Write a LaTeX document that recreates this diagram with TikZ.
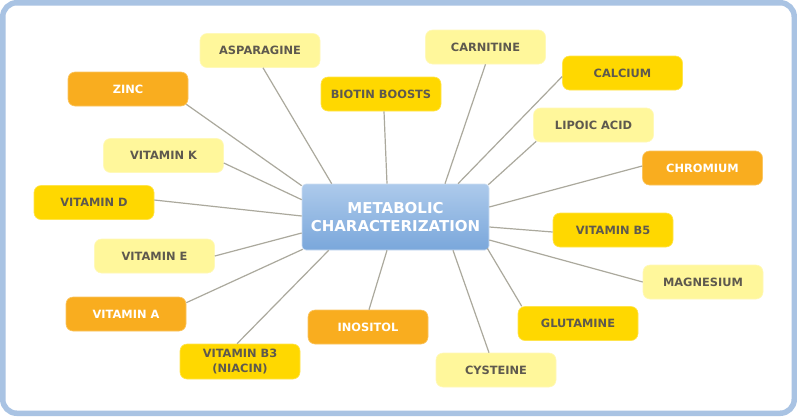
\documentclass[tikz,border=0pt]{standalone}
\usepackage{fontspec}
\setmainfont{DejaVu Sans}
\definecolor{frameblue}{HTML}{A9C3E3}
\definecolor{orangebox}{HTML}{F9AD1F}
\definecolor{goldbox}{HTML}{FFD800}
\definecolor{lightbox}{HTML}{FFF79B}
\definecolor{txtgray}{HTML}{5E594E}
\definecolor{linegray}{HTML}{ABA99D}
\definecolor{centop}{HTML}{ADCAEB}
\definecolor{cenbot}{HTML}{7AA7DB}
\tikzset{
  leaf/.style={rectangle, rounded corners=7pt, minimum width=120pt, minimum height=34pt,
    inner sep=0pt, font=\fontsize{11.4}{14.5}\selectfont\bfseries, align=center},
  orangeleaf/.style={leaf, fill=orangebox, draw=orangebox!70!white, line width=0.6pt, text=white},
  goldleaf/.style={leaf, fill=goldbox, draw=goldbox!70!white, line width=0.6pt, text=txtgray},
  lightleaf/.style={leaf, fill=lightbox, draw=lightbox!70!white, line width=0.6pt, text=txtgray},
  centerbox/.style={rectangle, rounded corners=4pt, minimum width=187pt, minimum height=66pt,
    inner sep=0pt, top color=centop, bottom color=cenbot, draw=centop!60!white, line width=0.6pt,
    text=white, font=\fontsize{15}{18.5}\selectfont\bfseries, align=center},
  link/.style={draw=linegray, line width=1.2pt}
}
\begin{document}
\begin{tikzpicture}[x=1pt,y=-1pt]
\useasboundingbox (0,0) rectangle (797,416);
\draw[frameblue, line width=5.5pt, fill=white, rounded corners=14pt] (2.75,2.75) rectangle (794.25,413.25);

\node[centerbox] (cen) at (395.5,217) {METABOLIC\\CHARACTERIZATION};

\node[lightleaf]  (asp)    at (260,50.5)   {ASPARAGINE};
\node[orangeleaf] (zinc)   at (128,89)     {ZINC};
\node[goldleaf]   (biotin) at (381,94)     {BIOTIN BOOSTS};
\node[lightleaf]  (carn)   at (485.5,47)   {CARNITINE};
\node[goldleaf]   (calc)   at (622.5,73)   {CALCIUM};
\node[lightleaf]  (lipoic) at (593.5,125)  {LIPOIC ACID};
\node[lightleaf]  (vitk)   at (163.5,155.5){VITAMIN K};
\node[orangeleaf] (chrom)  at (702.5,168)  {CHROMIUM};
\node[goldleaf]   (vitd)   at (94,202.5)   {VITAMIN D};
\node[goldleaf]   (vitbf)  at (613,230)    {VITAMIN B5};
\node[lightleaf]  (vite)   at (154.5,256)  {VITAMIN E};
\node[lightleaf]  (magn)   at (703,282)    {MAGNESIUM};
\node[orangeleaf] (vita)   at (126,314)    {VITAMIN A};
\node[orangeleaf] (inos)   at (368,327)    {INOSITOL};
\node[goldleaf]   (glut)   at (578,323.5)  {GLUTAMINE};
\node[goldleaf, minimum height=35pt] (vitbt) at (240,361.5) {VITAMIN B3\\(NIACIN)};
\node[lightleaf]  (cyst)   at (496,370)    {CYSTEINE};

\draw[link] ([xshift=3pt]asp.south) -- ([xshift=30pt]cen.north west);
\draw[link] ([xshift=-2pt,yshift=2pt]zinc.south east) -- ([yshift=-2pt]cen.north west);
\draw[link] ([xshift=3pt]biotin.south) -- ([xshift=-8.5pt]cen.north);
\draw[link] (carn.south) -- ([xshift=49.5pt]cen.north);
\draw[link] ([yshift=-3.5pt]calc.west) -- ([xshift=62.5pt]cen.north);
\draw[link] ([xshift=3pt,yshift=1pt]lipoic.south west) -- ([xshift=-1pt,yshift=-1pt]cen.north east);
\draw[link] ([yshift=-7.5pt]vitk.east) -- ([yshift=-16pt]cen.north west);
\draw[link] ([yshift=2pt]chrom.west) -- ([yshift=10pt]cen.east);
\draw[link] ([yshift=2.5pt]vitd.east) -- ([yshift=1pt]cen.west);
\draw[link] ([yshift=-2pt]vitbf.west) -- ([yshift=-10pt]cen.east);
\draw[link] (vite.east) -- ([yshift=-16pt]cen.west);
\draw[link] (magn.west) -- ([yshift=-23pt]cen.east);
\draw[link] ([yshift=-6pt]vita.north east) -- ([xshift=1pt,yshift=1pt]cen.south west);
\draw[link] ([xshift=1pt]inos.north) -- ([xshift=-8.5pt]cen.south);
\draw[link] ([xshift=4pt]glut.north west) -- ([xshift=-2pt,yshift=2pt]cen.south east);
\draw[link] ([xshift=-3pt]vitbt.north) -- ([xshift=27pt]cen.south west);
\draw[link] ([xshift=-7pt]cyst.north) -- ([xshift=57.5pt]cen.south);
\end{tikzpicture}
\end{document}
